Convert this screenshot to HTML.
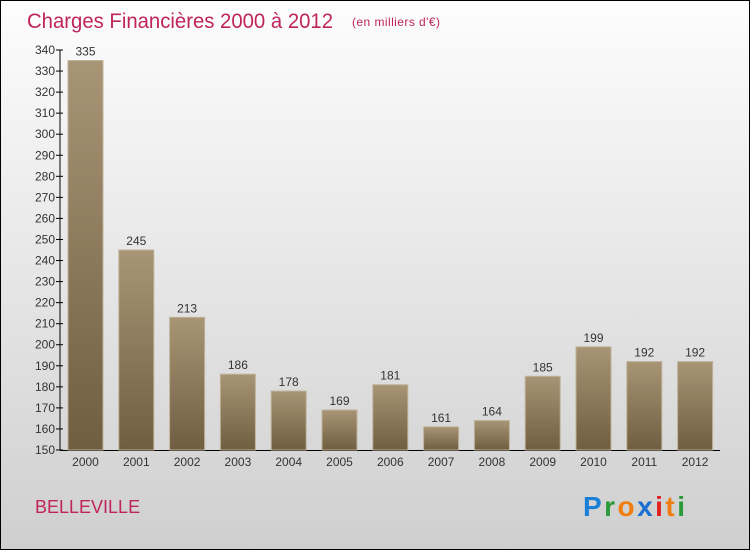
<!DOCTYPE html>
<html><head><meta charset="utf-8"><style>
body{margin:0}
svg{display:block;font-family:"Liberation Sans",sans-serif}
</style></head><body>
<svg id="c" width="750" height="550" xmlns="http://www.w3.org/2000/svg">
<defs>
<linearGradient id="bg" x1="0" y1="0" x2="0" y2="1"><stop offset="0" stop-color="#fdfdfd"/><stop offset="1" stop-color="#cfcfcf"/></linearGradient>
<linearGradient id="bar" x1="0" y1="0" x2="0" y2="1"><stop offset="0" stop-color="#a89576"/><stop offset="1" stop-color="#6f5e40"/></linearGradient>
</defs>
<rect x="0.5" y="0.5" width="749" height="549" fill="url(#bg)" stroke="#000"/>
<text x="27" y="28" font-size="21" fill="#c0245c" textLength="306" lengthAdjust="spacingAndGlyphs">Charges Financières 2000 à 2012</text>
<text x="352" y="26" font-size="12" fill="#c0245c" textLength="88">(en milliers d'€)</text>
<text x="35" y="513" font-size="18" fill="#c0245c">BELLEVILLE</text>
<g font-size="28" font-weight="bold">
<text x="583" y="516" textLength="102"><tspan fill="#1a7fd6">P</tspan><tspan fill="#2a9a3a">r</tspan><tspan fill="#f07d10">o</tspan><tspan fill="#1a6fd0">x</tspan><tspan fill="#e02020">i</tspan><tspan fill="#f07d10">t</tspan><tspan fill="#2a9a3a">i</tspan></text>
</g>
<g id="axes"></g>
<g id="bars"></g>
</svg>
<script>
const years=["2000","2001","2002","2003","2004","2005","2006","2007","2008","2009","2010","2011","2012"];
const values=[335,245,213,186,178,169,181,161,164,185,199,192,192];
const yTicks=[150,160,170,180,190,200,210,220,230,240,250,260,270,280,290,300,310,320,330,340];
const NS="http://www.w3.org/2000/svg";
const y=v=>450-(v-150)*400/190;
const x=i=>85.5+i*50.8;
function mk(t,a,p){const e=document.createElementNS(NS,t);for(const k in a)e.setAttribute(k,a[k]);p.appendChild(e);return e;}
const ax=document.getElementById('axes'),bg=document.getElementById('bars');
const yl=mk('line',{x1:60,y1:y(340),x2:60,y2:450,stroke:'#000'},ax);


const xl=mk('line',{x1:60,y1:450.5,x2:720,y2:450.5,stroke:'#000'},ax);


yTicks.forEach(v=>{
 mk('line',{x1:56,y1:y(v),x2:63,y2:y(v),stroke:'#000'},ax);
 const t=mk('text',{x:55,y:y(v)+4,'font-size':12,'text-anchor':'end',fill:'#333'},ax);
 t.textContent=v;
 
 
});
years.forEach((yr,i)=>{
 const v=values[i];
 const r=mk('rect',{x:x(i)-17.5,y:y(v),width:35,height:450-y(v),fill:'url(#bar)',stroke:'#bfb29a','stroke-width':1},bg);
 
 
 const l=mk('text',{x:x(i),y:y(v)-5,'font-size':12,'text-anchor':'middle',fill:'#333'},bg);
 l.textContent=v;
 
 
 const xt=mk('text',{x:x(i),y:466,'font-size':12,'text-anchor':'middle',fill:'#333'},ax);
 xt.textContent=yr;
 
 
});
</script>
</body></html>
